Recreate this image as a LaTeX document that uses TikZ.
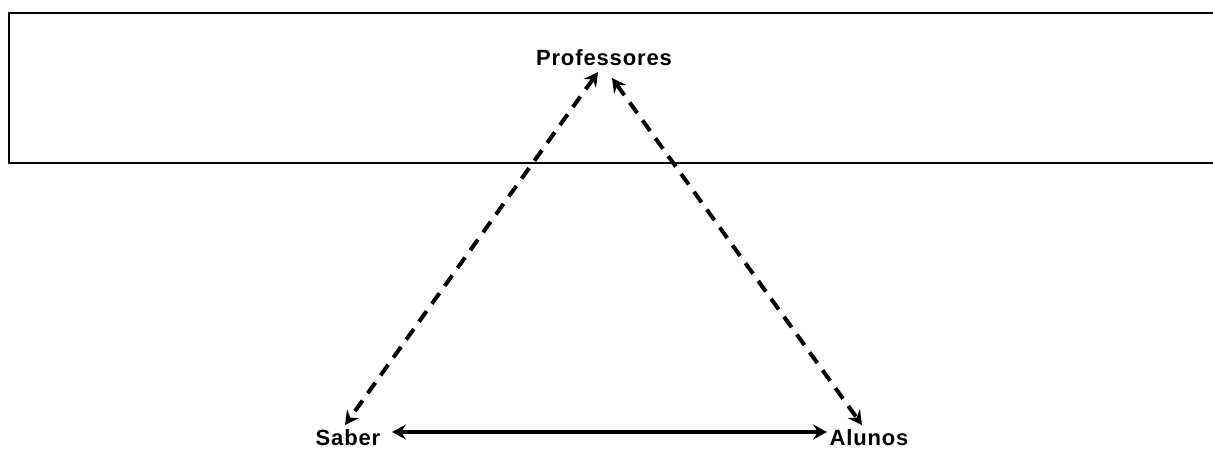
\documentclass[tikz,border=0pt]{standalone}
\usepackage{fontspec}
\setmainfont{Liberation Sans}[LetterSpace=4]
\usetikzlibrary{arrows.meta}
\begin{document}
\begin{tikzpicture}[x=1pt,y=-1pt,
  lbl/.style={font=\fontsize{22}{24}\selectfont\bfseries, inner sep=0pt},
  link/.style={line width=4pt, {Stealth[length=14pt,width=15pt,inset=5pt]}-{Stealth[length=14pt,width=15pt,inset=5pt]}},
  dlink/.style={link, dash pattern=on 13pt off 9pt}]
\useasboundingbox (0,0) rectangle (1213,450);
\draw[line width=2.5pt] (1215,13) -- (9,13) -- (9,163) -- (1215,163);
\node[lbl] (p) at (604,58) {Professores};
\node[lbl] (s) at (348,438) {Saber};
\node[lbl] (a) at (869,438) {Alunos};
\coordinate (p1) at (598,72);
\coordinate (p2) at (612,78);
\coordinate (s1) at (345,425);
\coordinate (a1) at (862,425);
\coordinate (s2) at (392,432);
\coordinate (a2) at (827,432);
\draw[dlink] (p1) -- (s1);
\draw[dlink] (p2) -- (a1);
\draw[link] (s2) -- (a2);
\end{tikzpicture}
\end{document}
